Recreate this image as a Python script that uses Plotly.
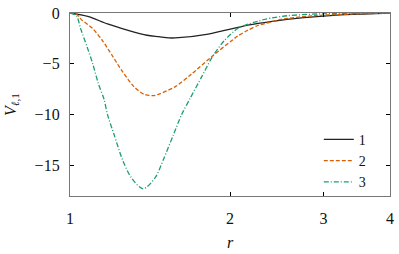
import plotly.graph_objects as go

# Series 1 (black, solid)
r1 = [1.0, 1.0801, 1.1765, 1.2817, 1.3962, 1.4698, 1.534, 1.6011, 1.8203, 2.0697,
      2.1602, 2.3866, 2.7533, 3.1748, 3.656, 4.0]
v1 = [0.0, -0.33, -1.08, -1.68, -2.19, -2.33, -2.45, -2.43, -2.07, -1.42,
      -1.2, -0.84, -0.46, -0.21, -0.08, 0.0]

# Series 2 (orange, dashed)
r2 = [1.0, 1.0291, 1.0495, 1.1034, 1.1516, 1.202, 1.2545, 1.3189, 1.3766, 1.4387,
      1.4698, 1.5786, 1.6949, 1.8597, 2.011, 2.0697, 2.1602, 2.2545, 2.3361,
      2.4908, 2.8734, 3.4101, 4.0]
v2 = [0.0, -0.12, -0.63, -1.53, -2.73, -4.23, -5.74, -7.24, -7.99, -8.12,
      -7.98, -7.24, -5.98, -4.17, -2.75, -2.25, -1.7, -1.23, -1.02,
      -0.63, -0.27, -0.09, 0.0]

# Series 3 (teal, dash-dot)
r3 = [1.0, 1.0291, 1.0469, 1.0768, 1.1034, 1.1307, 1.1591, 1.1765, 1.2108, 1.2545,
      1.3038, 1.3725, 1.4466, 1.4996, 1.5652, 1.6217, 1.6833, 1.7688, 1.8597,
      1.9552, 2.0697, 2.1602, 2.2545, 2.3361, 2.5633, 2.952, 4.0]
v3 = [0.0, -0.3, -1.53, -3.33, -4.99, -6.94, -8.5, -10.0, -11.98, -14.39,
      -16.19, -17.3, -16.19, -14.39, -11.98, -10.0, -8.38, -6.28, -4.17,
      -2.67, -1.5, -1.1, -0.82, -0.6, -0.27, -0.09, 0.0]

names = ["1", "2", "3"]
x_ticks = [1, 2, 3, 4]
x_labels = ["1", "2", "3", "4"]
y_ticks = [0, -5, -10, -15]
y_labels = ["0", "−5", "−10", "−15"]

FONT = "'Liberation Serif', 'DejaVu Serif', serif"
TXT = "#111111"

fig = go.Figure()
fig.add_trace(go.Scatter(x=r1, y=v1, mode="lines", name=names[0],
                         line=dict(color="#222222", width=1.3, shape="spline", smoothing=0.8)))
fig.add_trace(go.Scatter(x=r2, y=v2, mode="lines", name=names[1],
                         line=dict(color="#d95f02", width=1.3, dash="4px,2px", shape="spline", smoothing=0.8)))
fig.add_trace(go.Scatter(x=r3, y=v3, mode="lines", name=names[2],
                         line=dict(color="#1b9e77", width=1.3, dash="5px,2px,1px,2px", shape="spline", smoothing=0.8)))

axis_common = dict(
    showgrid=False, zeroline=False, showline=True, linecolor="#777777", linewidth=1.3,
    mirror="ticks", ticks="inside", ticklen=4, tickcolor="#000000", tickwidth=1,
    tickfont=dict(family=FONT, size=16, color=TXT), ticklabeloverflow="allow",
)

fig.update_xaxes(type="log", range=[0, 0.60206], tickvals=x_ticks, ticktext=x_labels,
                 title=dict(text="<i>r</i>", font=dict(family=FONT, size=16, color=TXT), standoff=10),
                 ticklabelstandoff=8, **axis_common)
fig.update_yaxes(range=[-18, 0], tickvals=y_ticks, ticktext=y_labels,
                 title=dict(text="<i>V</i><sub><i>ℓ</i>,1</sub>", font=dict(family=FONT, size=16, color=TXT), standoff=14),
                 ticklabelstandoff=6, **axis_common)

fig.update_layout(
    width=399, height=254,
    margin=dict(l=70, r=5, t=7, b=48),
    plot_bgcolor="white", paper_bgcolor="white",
    font=dict(family=FONT, size=16, color=TXT),
    legend=dict(x=0.94, y=-0.01, xanchor="right", yanchor="bottom",
                bgcolor="rgba(0,0,0,0)", borderwidth=0,
                font=dict(family=FONT, size=14, color=TXT), tracegroupgap=0, itemwidth=30),
)

fig.write_html("out.html", config={"displayModeBar": False},
               post_script="document.body.style.margin='0px';")
